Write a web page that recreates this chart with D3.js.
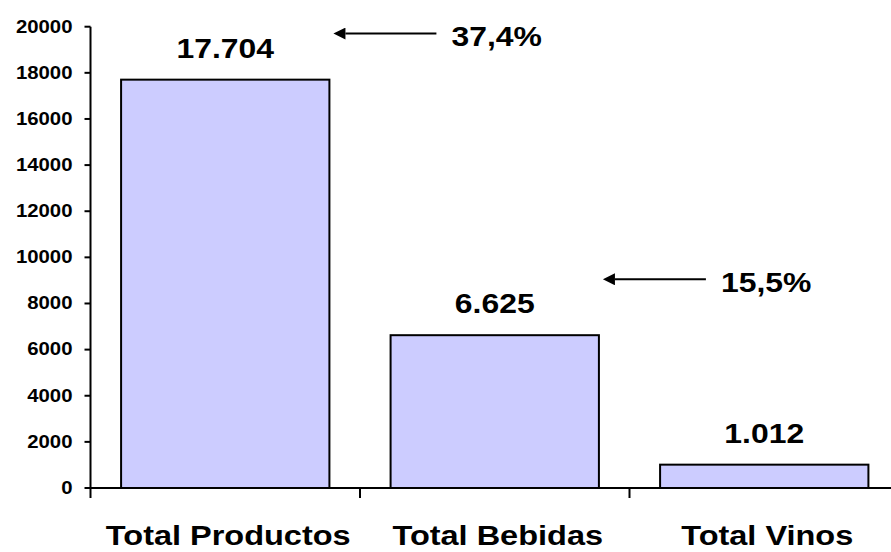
<!DOCTYPE html>
<html>
<head>
<meta charset="utf-8">
<script src="https://cdn.jsdelivr.net/npm/d3@7"></script>
<style>
  html, body { margin: 0; padding: 0; background: #fff; }
  svg { display: block; }
  text { font-family: "Liberation Sans", Arial, sans-serif; font-weight: bold; fill: #000; }
</style>
</head>
<body>
<svg id="chart" width="891" height="552"></svg>
<script>
// Data
const categories = ["Total Productos", "Total Bebidas", "Total Vinos"];
const values = [17704, 6625, 1012];
const valueLabels = ["17.704", "6.625", "1.012"];
const yTicks = [0, 2000, 4000, 6000, 8000, 10000, 12000, 14000, 16000, 18000, 20000];
// Share annotations: arrow points at the right edge of a bar, at a given height on the value axis
const shareLabels = ["37,4%", "15,5%"];
const shareBars = ["Total Productos", "Total Bebidas"];
const shareLevels = [19700, 9050];

const W = 891, H = 552;
const svg = d3.select("#chart");

const plotLeft = 90.5, plotRight = 899, plotTop = 26.7, plotBottom = 488;

const x = d3.scaleBand()
  .domain(categories)
  .range([plotLeft, plotRight])
  .paddingInner(0.227)
  .paddingOuter(0.1135);

const y = d3.scaleLinear().domain([0, 20000]).range([plotBottom, plotTop]);

// Place text with a slight horizontal stretch
function stretched(sel, sx, tx, ty) {
  return sel.attr("transform", (d, i) => `translate(${tx(d, i)},${ty(d, i)}) scale(${sx},1)`);
}

// Bars
svg.append("g").selectAll("rect")
  .data(values)
  .join("rect")
  .attr("x", (d, i) => x(categories[i]))
  .attr("y", d => y(d))
  .attr("width", x.bandwidth())
  .attr("height", d => y(0) - y(d))
  .attr("fill", "#CCCCFF")
  .attr("stroke", "#000")
  .attr("stroke-width", 2);

// Y axis
const yAxis = svg.append("g").attr("transform", `translate(${plotLeft},0)`);
yAxis.append("line")
  .attr("x1", 0).attr("x2", 0)
  .attr("y1", y(20000)).attr("y2", y(0))
  .attr("stroke", "#000").attr("stroke-width", 2);
yAxis.selectAll("line.tick")
  .data(yTicks)
  .join("line")
  .attr("class", "tick")
  .attr("x1", -6).attr("x2", 0)
  .attr("y1", d => y(d)).attr("y2", d => y(d))
  .attr("stroke", "#000").attr("stroke-width", 2);
stretched(
  yAxis.selectAll("text")
    .data(yTicks)
    .join("text")
    .attr("text-anchor", "end")
    .attr("dy", "0.36em")
    .style("font-size", "18.5px")
    .text(d => d),
  1.1, () => -18, d => y(d) - 0.8);

// X axis
const xAxis = svg.append("g");
xAxis.append("line")
  .attr("x1", plotLeft - 1).attr("x2", W)
  .attr("y1", plotBottom).attr("y2", plotBottom)
  .attr("stroke", "#000").attr("stroke-width", 2);
const step = x.step();
const edges = categories.map(c => x(c) - step * x.paddingInner() / 2);
xAxis.selectAll("line.tick")
  .data(edges)
  .join("line")
  .attr("class", "tick")
  .attr("x1", d => d).attr("x2", d => d)
  .attr("y1", plotBottom).attr("y2", plotBottom + 10)
  .attr("stroke", "#000").attr("stroke-width", 2);
stretched(
  xAxis.selectAll("text")
    .data(categories)
    .join("text")
    .attr("text-anchor", "middle")
    .style("font-size", "28.5px")
    .text(d => d),
  1.14, d => x(d) + x.bandwidth() / 2 + 3, () => 545);

// Value labels
stretched(
  svg.append("g").selectAll("text")
    .data(values)
    .join("text")
    .attr("text-anchor", "middle")
    .style("font-size", "28.5px")
    .text((d, i) => valueLabels[i]),
  1.12, (d, i) => x(categories[i]) + x.bandwidth() / 2, d => y(d) - 22);

// Share annotations with arrows
svg.append("defs").append("marker")
  .attr("id", "arrowhead")
  .attr("viewBox", "0 0 10 10")
  .attr("refX", 0).attr("refY", 5)
  .attr("markerWidth", 16).attr("markerHeight", 12)
  .attr("markerUnits", "userSpaceOnUse")
  .attr("orient", "auto-start-reverse")
  .append("path")
  .attr("d", "M0,0 L10,5 L0,10 Z")
  .attr("fill", "#000");

const ann = svg.append("g").selectAll("g")
  .data(shareLabels)
  .join("g");
ann.append("line")
  .attr("x1", (d, i) => x(shareBars[i]) + x.bandwidth() + 16)
  .attr("x2", (d, i) => x(shareBars[i]) + x.bandwidth() + 107)
  .attr("y1", (d, i) => y(shareLevels[i]))
  .attr("y2", (d, i) => y(shareLevels[i]))
  .attr("stroke", "#000").attr("stroke-width", 2)
  .attr("marker-start", "url(#arrowhead)");
stretched(
  ann.append("text")
    .attr("text-anchor", "start")
    .attr("dy", "0.36em")
    .style("font-size", "28.5px")
    .text(d => d),
  1.12, (d, i) => x(shareBars[i]) + x.bandwidth() + 122, (d, i) => y(shareLevels[i]) + 2);
</script>
</body>
</html>
